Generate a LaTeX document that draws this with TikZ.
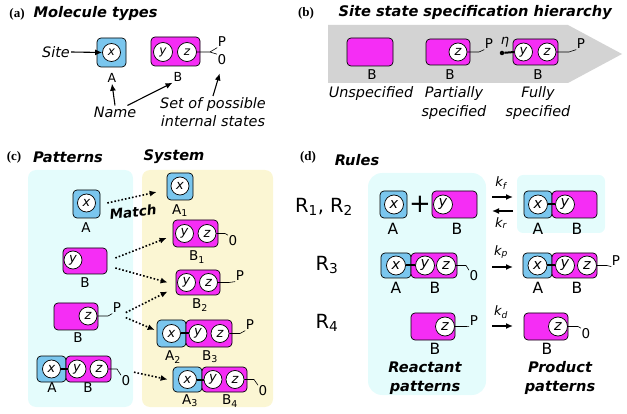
\documentclass[tikz,border=0pt]{standalone}
\usepackage{fontspec}
\setmainfont{DejaVu Sans}
\newfontfamily\panelserif{Liberation Serif}
\usepackage{tikz}
\usetikzlibrary{arrows.meta}

\definecolor{molblue}{RGB}{122,198,238}
\definecolor{molpink}{RGB}{245,45,245}
\definecolor{patbg}{RGB}{228,252,252}
\definecolor{sysbg}{RGB}{251,246,211}
\definecolor{hierbg}{RGB}{211,211,211}

\newcommand{\sitefont}{\fontsize{13}{13}\selectfont\itshape}
\newcommand{\namefont}{\fontsize{13.5}{14}\selectfont}
\newcommand{\notefont}{\fontsize{14.4}{18.5}\selectfont\itshape}
\newcommand{\titlefont}{\fontsize{14.6}{19}\selectfont\bfseries\itshape}
\newcommand{\panelfont}{\fontsize{13}{13}\selectfont\panelserif\bfseries}
\newcommand{\rulefont}{\fontsize{19.5}{20}\selectfont}

\begin{document}
\begin{tikzpicture}[x=1pt, y=-1pt,
	molA/.style={draw, fill=molblue, rounded corners=4pt, inner sep=0pt, line width=0.7pt},
	molB/.style={draw, fill=molpink, rounded corners=4pt, inner sep=0pt, line width=0.7pt},
	site/.style={circle, draw, fill=white, inner sep=0pt, minimum size=18pt, line width=0.7pt, font=\sitefont},
	molname/.style={font=\namefont, inner sep=1pt},
	stlabel/.style={font=\fontsize{13.5}{14}\selectfont, inner sep=0.5pt},
	note/.style={font=\notefont, align=center, inner sep=1pt},
	heading/.style={font=\titlefont},
	panel/.style={font=\panelfont},
	rulelabel/.style={font=\rulefont},
	bond/.style={line width=2pt},
	statelink/.style={line width=0.6pt},
	match/.style={-{Latex[length=7pt,width=6pt]}, dotted, line width=1.6pt},
	arr/.style={-{Latex[length=7pt,width=6pt]}, line width=1.1pt}]

	\useasboundingbox (0,0) rectangle (627,414);

	% (a) molecule types
	\begin{scope}[site/.append style={font=\fontsize{12}{12}\selectfont\itshape},
		molname/.append style={font=\fontsize{12.5}{13}\selectfont}]
	\node[panel] (la) at (17,14) {(a)};
	\node[heading, anchor=west] (ta) at (30,14) {Molecule types};
	\node[molA, minimum width=29pt, minimum height=29pt] (aA) at (111.5,52.5) {};
	\node[site] (aAx) at (111.5,52.5) {x};
	\node[molname] (aAn) at (112,78) {A};
	\node[molB, minimum width=49pt, minimum height=29pt] (aB) at (175.5,51.5) {};
	\node[site, minimum size=19pt] (aBy) at (163,52) {y};
	\node[site, minimum size=19pt] (aBz) at (187,52) {z};
	\node[molname] (aBn) at (178,77) {B};
	\node[stlabel] (aP) at (222,42) {P};
	\node[stlabel] (a0) at (222,60) {0};
	\coordinate (afork) at (210,52);
	\draw[statelink] (aBz.east) -- (afork) -- (aP.south west);
	\draw[statelink] (afork) -- (a0.north west);
	\node[note] (site) at (56,52) {Site};
	\node[note] (name) at (115,112) {Name};
	\node[note] (states) at (213,112) {Set of possible\\internal states};
	\draw[arr] (site.east) -- (aAx.west);
	\draw[arr] (name.north) -- (aAn.south);
	\draw[arr] ([xshift=-10pt]name.north east) -- (aBn.south west);
	\draw[arr, shorten >=8pt] (states.north) -- (a0.south);
	\end{scope}

	% (b) hierarchy
	\node[panel] (lb) at (306,13) {(b)};
	\node[heading, anchor=west] (tb) at (335,13) {Site state specification hierarchy};
	\fill[hierbg] (328,25) -- (568,25) -- (622,54) -- (568,83) -- (328,83) -- cycle;
	\node[molB, minimum width=46pt, minimum height=28pt] (bU) at (370,52) {};
	\node[molname] (bUn) at (372,75) {B};
	\node[note] (unsp) at (371,94) {Unspecified};
	\node[molB, minimum width=44pt, minimum height=26pt] (bP) at (448,52) {};
	\node[site] (bPz) at (458,52) {z};
	\node[stlabel] (bPP) at (489,44) {P};
	\coordinate (bPk) at (479,52);
	\draw[statelink] (bPz.east) -- (bPk) -- (bPP.south west);
	\node[molname] (bPn) at (450,75) {B};
	\node[note] (part) at (454,103) {Partially\\specified};
	\node[molB, minimum width=45pt, minimum height=26pt] (bF) at (535.5,52) {};
	\node[site] (bFy) at (523.5,52) {y};
	\node[site] (bFz) at (547,52) {z};
	\node[circle, fill, inner sep=0pt, minimum size=4.5pt] (bdot) at (502,53) {};
	\draw[bond] (bdot) -- (bFy.west);
	\node[stlabel, font=\sitefont] (eta) at (505,42) {η};
	\node[stlabel] (bFP) at (581,44) {P};
	\coordinate (bFk) at (569,52);
	\draw[statelink] (bFz.east) -- (bFk) -- (bFP.south west);
	\node[molname] (bFn) at (538,75) {B};
	\node[note] (full) at (538,103) {Fully\\specified};

	% (c) patterns and system
	\fill[patbg, rounded corners=8pt] (28,170) rectangle (133,407);
	\fill[sysbg, rounded corners=8pt] (142,170) rectangle (273,407);
	\node[panel] (lc) at (14,157) {(c)};
	\node[heading] (tpat) at (68,157) {Patterns};
	\node[heading] (tsys) at (174,157) {System};

	\node[molA, minimum width=27pt, minimum height=28pt] (pA) at (86.5,204) {};
	\node[site] (pAx) at (86.5,203) {x};
	\node[molname] (pAn) at (86,228) {A};

	\node[molB, minimum width=44pt, minimum height=26pt] (pBy) at (85,261) {};
	\node[site] (pByy) at (73,260) {y};
	\node[molname] (pByn) at (85,283) {B};

	\node[molB, minimum width=44pt, minimum height=27pt] (pBz) at (76,316.5) {};
	\node[site] (pBzz) at (88,316) {z};
	\node[stlabel] (pBzP) at (117,308) {P};
	\coordinate (pBzk) at (108,316);
	\draw[statelink] (pBzz.east) -- (pBzk) -- (pBzP.south west);
	\node[molname] (pBzn) at (78,338) {B};

	\node[molA, minimum width=29pt, minimum height=26pt] (pABa) at (51.5,369) {};
	\node[molB, minimum width=45pt, minimum height=26pt] (pABb) at (88.5,369) {};
	\node[site] (pABx) at (51.5,369) {x};
	\node[site] (pABy) at (77,369) {y};
	\node[site] (pABz) at (99,369) {z};
	\draw[bond] (pABx.east) -- (pABy.west);
	\node[stlabel] (pAB0) at (126,381) {0};
	\coordinate (pABk) at (117,369);
	\draw[statelink] (pABz.east) -- (pABk) -- (pAB0.north west);
	\node[molname] (pABan) at (52,388) {A};
	\node[molname] (pABbn) at (88,388) {B};

	\node[molA, minimum width=26pt, minimum height=27pt] (sA1) at (180,186.5) {};
	\node[site] (sA1x) at (180,186) {x};
	\node[molname] (sA1n) at (180,211) {A\textsubscript{1}};

	\node[molB, minimum width=45pt, minimum height=27pt] (sB1) at (195.5,233.5) {};
	\node[site] (sB1y) at (184.5,233.5) {y};
	\node[site] (sB1z) at (207,233.5) {z};
	\node[stlabel] (sB10) at (233,241) {0};
	\coordinate (sB1k) at (225,233.5);
	\draw[statelink] (sB1z.east) -- (sB1k) -- (sB10.north west);
	\node[molname] (sB1n) at (197,257) {B\textsubscript{1}};

	\node[molB, minimum width=44pt, minimum height=25pt] (sB2) at (198,282.5) {};
	\node[site] (sB2y) at (186.5,282.5) {y};
	\node[site] (sB2z) at (208.5,282.5) {z};
	\node[stlabel] (sB2P) at (240,276) {P};
	\coordinate (sB2k) at (229,282.5);
	\draw[statelink] (sB2z.east) -- (sB2k) -- (sB2P.south west);
	\node[molname] (sB2n) at (200,305) {B\textsubscript{2}};

	\node[molA, minimum width=29pt, minimum height=27pt] (sA2) at (171.5,333.5) {};
	\node[molB, minimum width=46pt, minimum height=27pt] (sB3) at (209,333.5) {};
	\node[site] (sA2x) at (171.5,333.5) {x};
	\node[site] (sB3y) at (198,333.5) {y};
	\node[site] (sB3z) at (220,333.5) {z};
	\draw[bond] (sA2x.east) -- (sB3y.west);
	\node[stlabel] (sB3P) at (250,325) {P};
	\coordinate (sB3k) at (240,333.5);
	\draw[statelink] (sB3z.east) -- (sB3k) -- (sB3P.south west);
	\node[molname] (sA2n) at (173,357) {A\textsubscript{2}};
	\node[molname] (sB3n) at (210,357) {B\textsubscript{3}};

	\node[molA, minimum width=29pt, minimum height=25pt] (sA3) at (187.5,379.5) {};
	\node[molB, minimum width=45pt, minimum height=25pt] (sB4) at (224.5,379.5) {};
	\node[site] (sA3x) at (187.5,379.5) {x};
	\node[site] (sB4y) at (213,379.5) {y};
	\node[site] (sB4z) at (235,379.5) {z};
	\draw[bond] (sA3x.east) -- (sB4y.west);
	\node[stlabel] (sB40) at (263,391) {0};
	\coordinate (sB4k) at (254,379.5);
	\draw[statelink] (sB4z.east) -- (sB4k) -- (sB40.north west);
	\node[molname] (sA3n) at (190,401) {A\textsubscript{3}};
	\node[molname] (sB4n) at (230,401) {B\textsubscript{4}};

	\node[heading, rotate=7, font=\fontsize{13.6}{14}\selectfont\bfseries\itshape] (match) at (133,212) {Match};
	% (yshift points up, the y axis points down)
	\draw[match] ([xshift=7pt,yshift=1pt]pA.east) -- ([xshift=-10pt,yshift=-5.5pt]sA1.west);
	\draw[match] ([xshift=8pt,yshift=3pt]pBy.east) -- ([xshift=-6pt,yshift=-4.5pt]sB1.west);
	\draw[match] ([xshift=8pt,yshift=-7pt]pBy.east) -- ([xshift=-8pt]sB2.west);
	\draw[match] ([xshift=4pt,yshift=1pt]pBzP.south east) -- ([xshift=-8pt,yshift=-9pt]sB2.west);
	\draw[match] ([xshift=4pt,yshift=-4pt]pBzP.south east) -- ([xshift=-2pt,yshift=3.5pt]sA2.west);
	\draw[match] ([xshift=3pt,yshift=3pt]pAB0.north east) -- ([xshift=-5pt]sA3.west);

	% (d) rules
	\fill[patbg, rounded corners=14pt] (368,173) rectangle (486,395);
	\fill[patbg, rounded corners=6pt] (517,175) rectangle (605,233);
	\node[panel] (ld) at (308,157) {(d)};
	\node[heading] (trul) at (357,160) {Rules};
	\node[rulelabel] (r12) at (324,207) {R\textsubscript{1}, R\textsubscript{2}};
	\node[rulelabel] (r3) at (327,265) {R\textsubscript{3}};
	\node[rulelabel] (r4) at (327,323) {R\textsubscript{4}};

	\begin{scope}[site/.append style={font=\fontsize{14.5}{15}\selectfont\itshape, minimum size=19pt},
		molname/.append style={font=\fontsize{15.5}{16}\selectfont}]
	\node[molA, minimum width=27pt, minimum height=27pt] (rA) at (393.5,204.5) {};
	\node[site] (rAx) at (394,204.5) {x};
	\node[font=\fontsize{26}{26}\selectfont, inner sep=0pt] (plus) at (420,204) {+};
	\node[molB, minimum width=45pt, minimum height=27pt] (rB) at (454.5,204.5) {};
	\node[site] (rBy) at (443,204.5) {y};
	\node[molname] (rAn) at (393,229) {A};
	\node[molname] (rBn) at (457,229) {B};

	\coordinate (kfs) at (492,197);
	\coordinate (kfe) at (513,197);
	\coordinate (krs) at (513,211);
	\coordinate (kre) at (492,211);
	\draw[arr, line width=1.4pt] (kfs) -- (kfe);
	\draw[arr, line width=1.4pt] (krs) -- (kre);
	\node[stlabel, font=\sitefont] (kf) at (501,183) {k\textsubscript{f}};
	\node[stlabel, font=\sitefont] (kr) at (501,223) {k\textsubscript{r}};

	\node[molA, minimum width=28pt, minimum height=27pt] (pcA) at (538,204.5) {};
	\node[molB, minimum width=45pt, minimum height=27pt] (pcB) at (574.5,204.5) {};
	\node[site] (pcAx) at (538,204.5) {x};
	\node[site] (pcBy) at (565,204.5) {y};
	\draw[bond] (pcAx.east) -- (pcBy.west);
	\node[molname] (pcAn) at (538,229) {A};
	\node[molname] (pcBn) at (577,229) {B};

	\node[molA, minimum width=30pt, minimum height=25pt] (r3A) at (396,265.5) {};
	\node[molB, minimum width=46pt, minimum height=25pt] (r3B) at (434,265.5) {};
	\node[site] (r3Ax) at (396,265.5) {x};
	\node[site] (r3By) at (425,265.5) {y};
	\node[site] (r3Bz) at (446,265.5) {z};
	\draw[bond] (r3Ax.east) -- (r3By.west);
	\node[stlabel] (r30) at (474,276) {0};
	\coordinate (r3k) at (466,265.5);
	\draw[statelink] (r3Bz.east) -- (r3k) -- (r30.north west);
	\node[molname] (r3An) at (396,288) {A};
	\node[molname] (r3Bn) at (435,288) {B};

	\coordinate (kps) at (492,267);
	\coordinate (kpe) at (513,267);
	\draw[arr, line width=1.4pt] (kps) -- (kpe);
	\node[stlabel, font=\sitefont] (kp) at (501,252) {k\textsubscript{p}};

	\node[molA, minimum width=29pt, minimum height=25pt] (q3A) at (537.5,265.5) {};
	\node[molB, minimum width=45pt, minimum height=25pt] (q3B) at (574.5,265.5) {};
	\node[site] (q3Ax) at (537.5,265.5) {x};
	\node[site] (q3By) at (565,265.5) {y};
	\node[site] (q3Bz) at (587,265.5) {z};
	\draw[bond] (q3Ax.east) -- (q3By.west);
	\node[stlabel] (q3P) at (616,261) {P};
	\coordinate (q3k) at (607,265.5);
	\draw[statelink] (q3Bz.east) -- (q3k) -- (q3P.south west);
	\node[molname] (q3An) at (538,288) {A};
	\node[molname] (q3Bn) at (577,288) {B};

	\node[molB, minimum width=44pt, minimum height=27pt] (r4B) at (433,326.5) {};
	\node[site] (r4Bz) at (445,326.5) {z};
	\node[stlabel] (r4P) at (474,321) {P};
	\coordinate (r4k) at (465,326.5);
	\draw[statelink] (r4Bz.east) -- (r4k) -- (r4P.south west);
	\node[molname] (r4Bn) at (435,349) {B};

	\coordinate (kds) at (492,326);
	\coordinate (kde) at (513,326);
	\draw[arr, line width=1.4pt] (kds) -- (kde);
	\node[stlabel, font=\sitefont] (kd) at (501,312) {k\textsubscript{d}};

	\node[molB, minimum width=44pt, minimum height=27pt] (q4B) at (546,326.5) {};
	\node[site] (q4Bz) at (558,326.5) {z};
	\node[stlabel] (q40) at (586,334) {0};
	\coordinate (q4k) at (578,326.5);
	\draw[statelink] (q4Bz.east) -- (q4k) -- (q40.north west);
	\node[molname] (q4Bn) at (547,349) {B};
	\end{scope}

	\node[heading, align=center] (reac) at (425,378) {Reactant\\patterns};
	\node[heading, align=center] (prod) at (560,378) {Product\\patterns};
\end{tikzpicture}
\end{document}
